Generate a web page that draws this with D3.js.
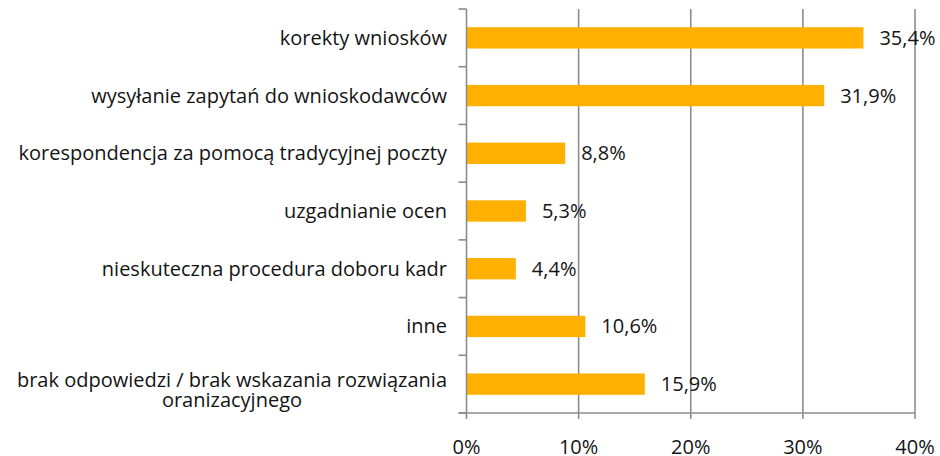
<!DOCTYPE html>
<html>
<head>
<meta charset="utf-8">
<script src="https://cdn.jsdelivr.net/npm/d3@7"></script>
<style>
  body { margin: 0; background: #fff; }
  svg text { font-family: "Open Sans", "Noto Sans", sans-serif; fill: #141414; }
</style>
</head>
<body>
<div id="chart"></div>
<script>
// kategorie (od góry) i wartości w %
const categories = [
    ["korekty wniosków"],
    ["wysyłanie zapytań do wnioskodawców"],
    ["korespondencja za pomocą tradycyjnej poczty"],
    ["uzgadnianie ocen"],
    ["nieskuteczna procedura doboru kadr"],
    ["inne"],
    ["brak odpowiedzi / brak wskazania rozwiązania", "oranizacyjnego"]
];
const values = [35.4, 31.9, 8.8, 5.3, 4.4, 10.6, 15.9];
const xTicks = [0, 10, 20, 30, 40];

const width = 940, height = 456;
const plotLeft = 466.5, plotRight = 915, plotTop = 9, plotBottom = 413;
const fontSize = "20px";

const svg = d3.select("#chart").append("svg")
    .attr("width", width)
    .attr("height", height);

const x = d3.scaleLinear().domain([0, 40]).range([plotLeft, plotRight]);
const y = d3.scaleBand().domain(d3.range(values.length)).range([plotTop, plotBottom])
    .paddingInner(0.63).paddingOuter(0.315);
const step = (plotBottom - plotTop) / values.length;

// siatka pionowa
svg.append("g").selectAll("line")
    .data(xTicks.slice(1))
    .enter().append("line")
    .attr("x1", d => x(d)).attr("x2", d => x(d))
    .attr("y1", plotTop).attr("y2", plotBottom + 6)
    .attr("stroke", "#8c8c8c").attr("stroke-width", 1.6);

// słupki
svg.append("g").selectAll("rect")
    .data(values)
    .enter().append("rect")
    .attr("x", x(0))
    .attr("y", (d, i) => y(i))
    .attr("width", d => x(d) - x(0))
    .attr("height", y.bandwidth())
    .attr("fill", "#ffb000");

// oś Y z podziałkami na granicach kategorii
const ax = svg.append("g").attr("stroke", "#8c8c8c").attr("stroke-width", 1.6);
ax.append("line").attr("x1", plotLeft).attr("x2", plotLeft).attr("y1", plotTop).attr("y2", plotBottom + 6);
ax.selectAll(".yt").data(d3.range(values.length + 1)).enter().append("line")
    .attr("x1", plotLeft - 8).attr("x2", plotLeft)
    .attr("y1", i => plotTop + i * step).attr("y2", i => plotTop + i * step);
// oś X
ax.append("line").attr("x1", plotLeft - 8).attr("x2", plotRight).attr("y1", plotBottom).attr("y2", plotBottom);

// etykiety wartości
svg.append("g").selectAll("text")
    .data(values)
    .enter().append("text")
    .attr("x", d => x(d) + 16)
    .attr("y", (d, i) => y(i) + y.bandwidth() / 2)
    .attr("dy", "0.35em")
    .style("font-size", fontSize)
    .text(d => d3.format(".1f")(d).replace(".", ",") + "%");

// etykiety kategorii
const cat = svg.append("g").selectAll("g")
    .data(categories)
    .enter().append("g");
cat.each(function (lines, i) {
    const g = d3.select(this);
    const cy = y(i) + y.bandwidth() / 2 + (lines.length > 1 ? 6 : 0);
    const first = g.append("text")
        .attr("x", 447)
        .attr("y", cy - (lines.length - 1) * 10)
        .attr("dy", "0.35em")
        .attr("text-anchor", "end")
        .style("font-size", fontSize)
        .text(lines[0]);
    if (lines.length > 1) {
        const w = first.node().getComputedTextLength();
        g.append("text")
            .attr("x", 447 - w / 2)
            .attr("y", cy + 10)
            .attr("dy", "0.35em")
            .attr("text-anchor", "middle")
            .style("font-size", fontSize)
            .text(lines[1]);
    }
});

// etykiety osi X
svg.append("g").selectAll("text")
    .data(xTicks)
    .enter().append("text")
    .attr("x", d => x(d))
    .attr("y", 454)
    .attr("text-anchor", "middle")
    .style("font-size", fontSize)
    .text(d => d + "%");
</script>
</body>
</html>
